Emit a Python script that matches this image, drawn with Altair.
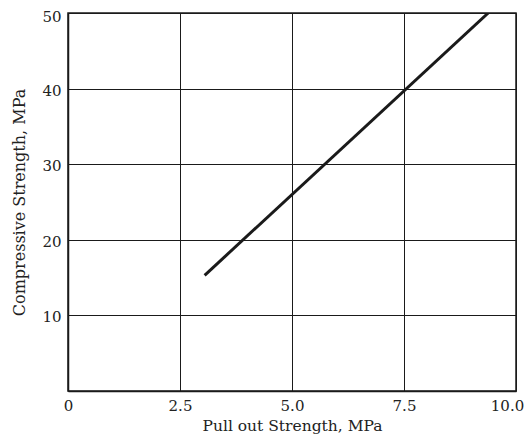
import altair as alt
import pandas as pd

pull_out = [3.05, 9.38]
compressive = [15.3, 50.0]
x_ticks = [0, 2.5, 5.0, 7.5, 10.0]
y_ticks = [10, 20, 30, 40, 50]

df = pd.DataFrame({"x": pull_out, "y": compressive})

FONT = "DejaVu Serif"

chart = (
    alt.Chart(df)
    .mark_line(color="#1a1a1a", strokeWidth=3, clip=True)
    .encode(
        x=alt.X(
            "x:Q",
            scale=alt.Scale(domain=[0, 10], nice=False, zero=False),
            axis=alt.Axis(
                values=x_ticks,
                labelExpr="datum.value == 0 ? '0' : format(datum.value, '.1f')",
                labelOffset=alt.condition("datum.value == 10", alt.value(-9), alt.value(0)),
                title="Pull out Strength, MPa",
                titlePadding=5,
            ),
        ),
        y=alt.Y(
            "y:Q",
            scale=alt.Scale(domain=[0, 50], nice=False, zero=False),
            axis=alt.Axis(
                values=y_ticks,
                title="Compressive Strength, MPa",
                labelOffset=alt.condition("datum.value == 50", alt.value(3.5), alt.value(1.5)),
                titlePadding=14,
                titleFontSize=16,
            ),
        ),
    )
    .properties(
        width=448,
        height=378,
        autosize=alt.AutoSizeParams(type="none"),
        padding={"left": 60, "top": 5, "right": 8, "bottom": 48},
    )
    .configure_view(stroke="#1a1a1a", strokeWidth=1.5)
    .configure_axis(
        grid=True,
        gridColor="#1a1a1a",
        gridWidth=1,
        gridOpacity=1,
        domain=True,
        domainColor="#1a1a1a",
        domainWidth=1.5,
        ticks=False,
        labelFont=FONT,
        labelFontSize=15,
        labelColor="#222",
        titleFont=FONT,
        titleFontSize=15.5,
        titleFontWeight="normal",
        titleColor="#222",
        labelPadding=7,
    )
    .configure_axisX(labelFlush=False)
    .configure_axisY(labelFlush=False)
)

chart.save("out.html", embed_options={"renderer": "svg", "actions": False})
